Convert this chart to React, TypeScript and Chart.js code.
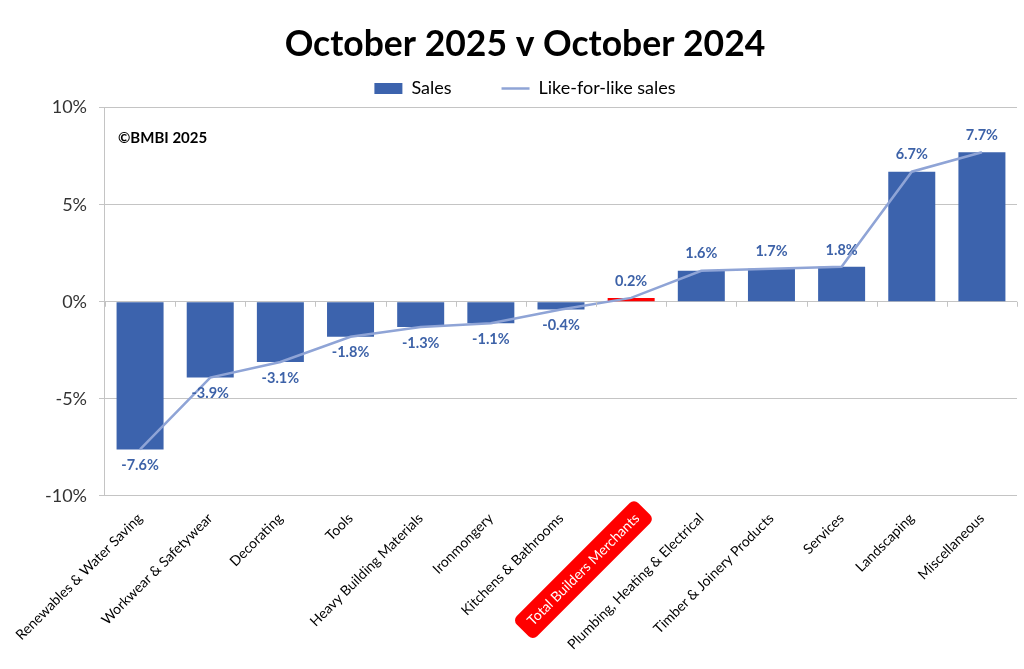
import React, { useEffect, useRef } from 'react';
import { Chart, registerables } from 'chart.js';

Chart.register(...registerables);

const categories: string[] = [
  'Renewables & Water Saving',
  'Workwear & Safetywear',
  'Decorating',
  'Tools',
  'Heavy Building Materials',
  'Ironmongery',
  'Kitchens & Bathrooms',
  'Total Builders Merchants',
  'Plumbing, Heating & Electrical',
  'Timber & Joinery Products',
  'Services',
  'Landscaping',
  'Miscellaneous',
];

const salesValues: number[] = [-7.6, -3.9, -3.1, -1.8, -1.3, -1.1, -0.4, 0.2, 1.6, 1.7, 1.8, 6.7, 7.7];
const likeForLikeValues: number[] = [-7.6, -3.9, -3.1, -1.8, -1.3, -1.1, -0.4, 0.2, 1.6, 1.7, 1.8, 6.7, 7.7];
const highlightIndex = 7;

const yMin = -10;
const yMax = 10;
const yStep = 5;

const titleText = 'October 2025 v October 2024';
const copyrightText = '\u00A9BMBI 2025';

const BAR_COLOR = '#3C63AD';
const HIGHLIGHT_COLOR = '#FF0000';
const LINE_COLOR = '#8FA4D6';
const LABEL_COLOR = '#3D62A8';
const GRID_COLOR = '#C4C4C4';

const valueLabelPlugin = {
  id: 'valueLabels',
  afterDatasetsDraw(chart: any) {
    const meta = chart.getDatasetMeta(1);
    const ctx = chart.ctx;
    ctx.save();
    ctx.font = 'bold 14.5px Lato';
    ctx.fillStyle = LABEL_COLOR;
    ctx.textAlign = 'center';
    ctx.textBaseline = 'middle';
    meta.data.forEach((el: any, i: number) => {
      const v = salesValues[i];
      const y = v >= 0 ? el.y - 17 : el.y + 16;
      ctx.fillText(`${v.toFixed(1)}%`, el.x, y);
    });
    ctx.restore();
  },
};

const highlightTickPlugin = {
  id: 'highlightTick',
  beforeDraw(chart: any) {
    const xs = chart.scales.x;
    const items = xs.getLabelItems(chart.chartArea);
    const item = items[highlightIndex];
    if (!item || !item.options || !item.options.backdrop) return;
    const { translation, rotation, backdrop } = item.options;
    const ctx = chart.ctx;
    ctx.save();
    ctx.translate(translation[0], translation[1]);
    ctx.rotate(rotation);
    ctx.fillStyle = HIGHLIGHT_COLOR;
    ctx.beginPath();
    (ctx as any).roundRect(backdrop.left, backdrop.top, backdrop.width, backdrop.height, 6);
    ctx.fill();
    ctx.restore();
  },
};

const extrasPlugin = {
  id: 'extras',
  afterDraw(chart: any) {
    const ctx = chart.ctx;
    const area = chart.chartArea;
    const xs = chart.scales.x;
    const ys = chart.scales.y;
    ctx.save();
    const y0 = ys.getPixelForValue(0);
    const n = categories.length;
    const w = (xs.right - xs.left) / n;
    ctx.strokeStyle = GRID_COLOR;
    ctx.lineWidth = 1;
    ctx.beginPath();
    for (let i = 0; i <= n; i++) {
      const x = Math.round(xs.left + i * w) + 0.5;
      ctx.moveTo(x, y0);
      ctx.lineTo(x, y0 + 5);
    }
    ctx.stroke();
    ctx.font = 'bold 15px Lato';
    ctx.fillStyle = '#000';
    ctx.textAlign = 'left';
    ctx.textBaseline = 'middle';
    ctx.fillText(copyrightText, area.left + 13, area.top + 31);
    ctx.restore();
  },
};

export default function App() {
  const canvasRef = useRef<HTMLCanvasElement | null>(null);

  useEffect(() => {
    if (!canvasRef.current) return;
    const chart = new Chart(canvasRef.current, {
      type: 'bar',
      data: {
        labels: categories,
        datasets: [
          {
            type: 'line',
            label: 'Like-for-like sales',
            data: likeForLikeValues,
            borderColor: LINE_COLOR,
            backgroundColor: LINE_COLOR,
            borderWidth: 2.5,
            pointRadius: 0,
            pointStyle: 'line',
            tension: 0,
          } as any,
          {
            type: 'bar',
            label: 'Sales',
            data: salesValues,
            backgroundColor: salesValues.map((_, i) => (i === highlightIndex ? HIGHLIGHT_COLOR : BAR_COLOR)),
            borderWidth: 0,
            pointStyle: 'rect',
            categoryPercentage: 1,
            barPercentage: 0.67,
          } as any,
        ],
      },
      options: {
        responsive: false,
        animation: false,
        layout: { padding: { left: 33, right: 7, top: 0, bottom: 10 } },
        plugins: {
          title: {
            display: true,
            text: titleText,
            color: '#000',
            font: { family: 'Lato', size: 35.5, weight: 'bold' },
            padding: { top: 23, bottom: -36 },
          },
          legend: {
            display: true,
            reverse: true,
            labels: {
              usePointStyle: true,
              boxHeight: 11,
              pointStyleWidth: 28,
              color: '#000',
              font: { family: 'Lato', size: 18 },
              padding: 50,
              generateLabels: (chart: any) => {
                const items = Chart.defaults.plugins.legend.labels.generateLabels(chart);
                return items.map((it: any) => {
                  if (it.datasetIndex === 1) {
                    return { ...it, fillStyle: BAR_COLOR, strokeStyle: BAR_COLOR, lineWidth: 0, pointStyle: 'rect' };
                  }
                  return { ...it, strokeStyle: LINE_COLOR, lineWidth: 2.5, pointStyle: 'line' };
                });
              },
            },
          },
          tooltip: { enabled: false },
        },
        scales: {
          x: {
            grid: { display: false },
            border: { display: false },
            ticks: {
              autoSkip: false,
              minRotation: 45,
              maxRotation: 45,
              padding: 6,
              font: { family: 'Lato', size: 14 },
              color: (c: any) => (c.index === highlightIndex ? '#FFFFFF' : '#000000'),
              showLabelBackdrop: (c: any) => c.index === highlightIndex,
              backdropColor: 'rgba(0,0,0,0)',
              backdropPadding: { top: 6, bottom: 6, left: 10, right: 10 },
            } as any,
          },
          y: {
            min: yMin,
            max: yMax,
            grid: { color: GRID_COLOR, tickLength: 6, lineWidth: 1 },
            border: { display: true, color: GRID_COLOR },
            ticks: {
              stepSize: yStep,
              padding: 12,
              color: '#333333',
              font: { family: 'Lato', size: 18 },
              callback: (v: any) => `${v}%`,
            },
          },
        },
      } as any,
      plugins: [highlightTickPlugin, valueLabelPlugin, extrasPlugin],
    });
    return () => chart.destroy();
  }, []);

  return (
    <div style={{ position: 'absolute', left: 0, top: 0, width: 1024, height: 669, background: '#fff' }}>
      <canvas ref={canvasRef} width={1024} height={669} style={{ display: 'block' }} />
    </div>
  );
}
